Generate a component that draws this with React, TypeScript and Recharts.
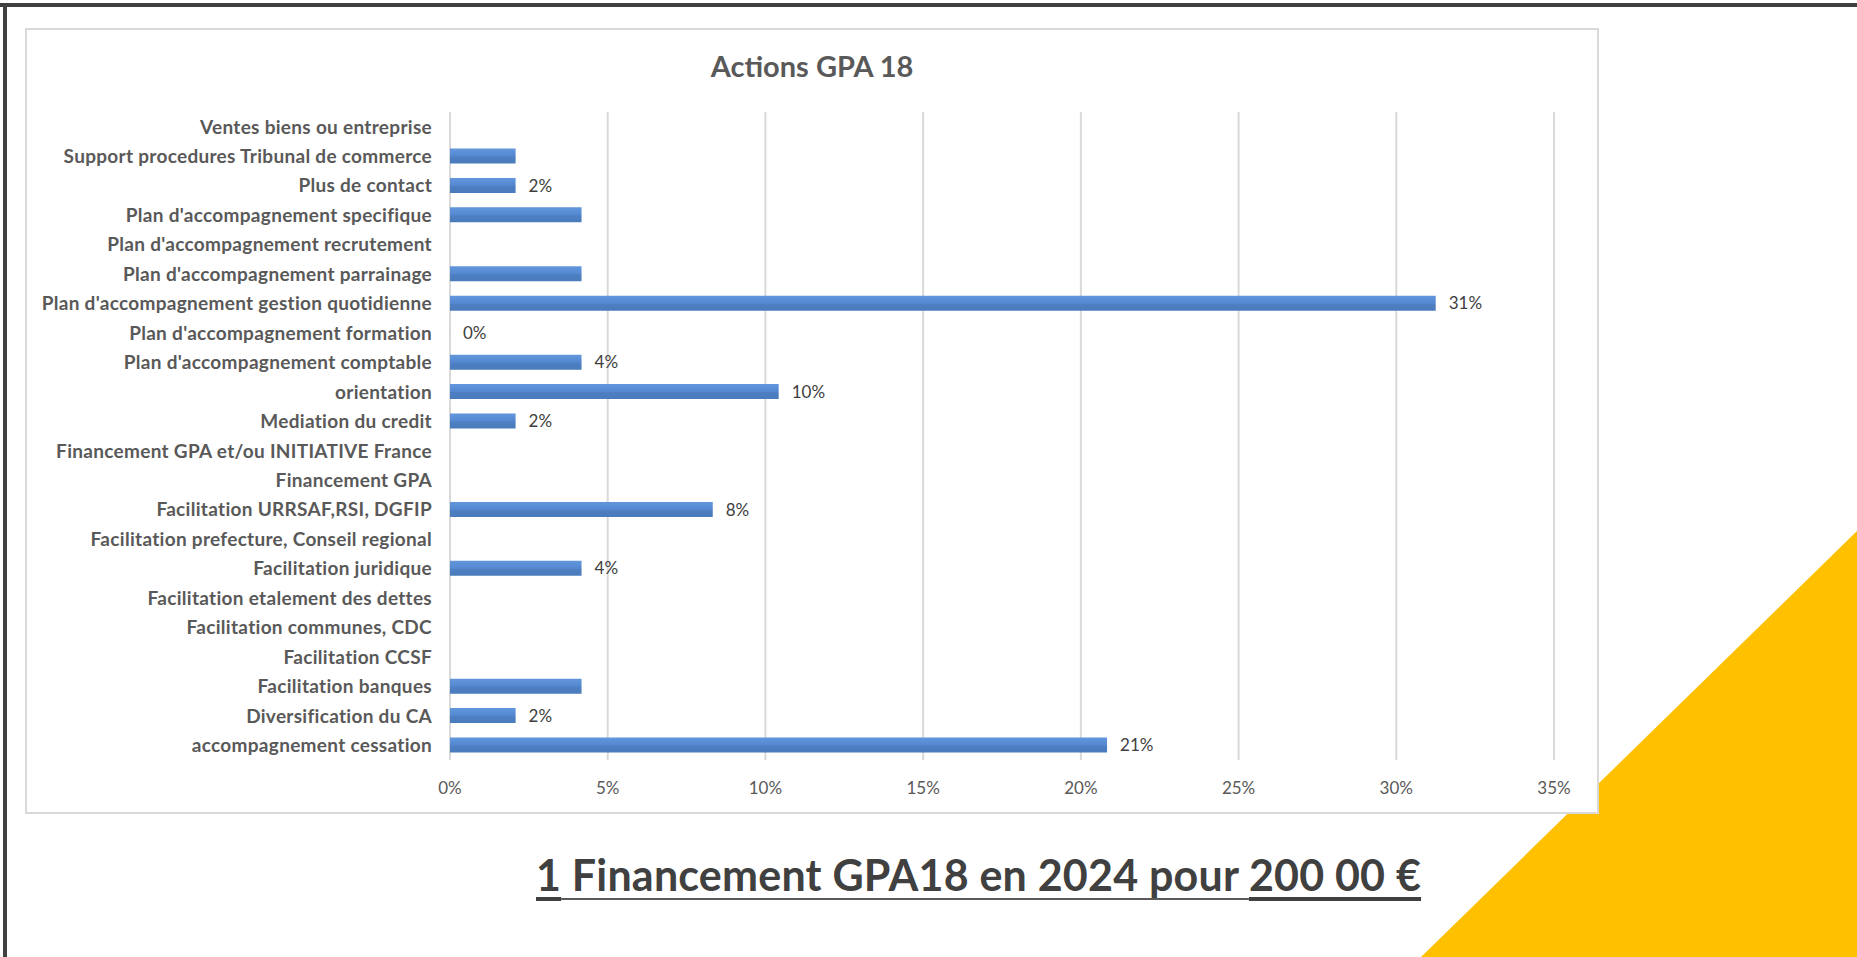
import React from 'react';
import { BarChart, Bar, XAxis, YAxis, CartesianGrid, LabelList } from 'recharts';

const categories = [
  'Ventes biens ou entreprise',
  'Support procedures Tribunal de commerce',
  'Plus de contact',
  "Plan d'accompagnement specifique",
  "Plan d'accompagnement recrutement",
  "Plan d'accompagnement parrainage",
  "Plan d'accompagnement gestion quotidienne",
  "Plan d'accompagnement formation",
  "Plan d'accompagnement comptable",
  'orientation',
  'Mediation du credit',
  'Financement GPA et/ou INITIATIVE France',
  'Financement GPA',
  'Facilitation URRSAF,RSI, DGFIP',
  'Facilitation prefecture, Conseil regional',
  'Facilitation juridique',
  'Facilitation etalement des dettes',
  'Facilitation communes, CDC',
  'Facilitation CCSF',
  'Facilitation banques',
  'Diversification du CA',
  'accompagnement cessation',
];

const shares: (number | null)[] = [
  null, 2.08, 2.08, 4.17, null, 4.17, 31.25, 0, 4.17, 10.42, 2.08,
  null, null, 8.33, null, 4.17, null, null, null, 4.17, 2.08, 20.83,
];

const valueLabels = [
  '', '', '2%', '', '', '', '31%', '0%', '4%', '10%', '2%',
  '', '', '8%', '', '4%', '', '', '', '', '2%', '21%',
];

const xTicks = [0, 5, 10, 15, 20, 25, 30, 35];
const chartTitle = 'Actions GPA 18';

const data = categories.map((name, i) => ({ name, value: shares[i], label: valueLabels[i] }));

const FONT = 'Lato, "Open Sans", sans-serif';

function YTick(props: any) {
  const { x, y, payload } = props;
  return (
    <text x={x - 18} y={y} dy="0.36em" textAnchor="end" fill="#595959" fontFamily={FONT}
      fontWeight={700} fontSize={19} letterSpacing={0.3}>
      {payload.value}
    </text>
  );
}

function XTick(props: any) {
  const { x, y, payload } = props;
  return (
    <text x={x} y={y + 28} dy="0.36em" textAnchor="middle" fill="#595959" fontFamily={FONT} fontSize={17}>
      {`${payload.value}%`}
    </text>
  );
}

function BarLabel(props: any) {
  const { x, y, width, height, value } = props;
  if (!value) return null;
  return (
    <text x={Number(x) + Number(width) + 13} y={Number(y) + Number(height) / 2} dy="0.36em"
      textAnchor="start" fill="#404040" fontFamily={FONT} fontSize={17}>
      {value}
    </text>
  );
}

const zeroBarSize = (v: any) => (v === 0 ? 0.01 : 0);

export default function App() {
  return (
    <div style={{ position: 'absolute', left: 0, top: 0, width: 1857, height: 957, overflow: 'hidden', background: '#fff' }}>
      <svg width={1857} height={957} style={{ position: 'absolute', left: 0, top: 0 }}>
        <polygon points="1421,957 1857,531 1857,957" fill="#FFC000" />
      </svg>
      <div style={{ position: 'absolute', left: 0, top: 3, width: 1857, height: 4, background: '#404040' }} />
      <div style={{ position: 'absolute', left: 3, top: 3, width: 4, height: 954, background: '#404040' }} />
      <div style={{ position: 'absolute', left: 25, top: 28, width: 1574, height: 786, boxSizing: 'border-box', border: '2px solid #d9d9d9', background: '#fff' }} />
      <div style={{ position: 'absolute', left: 26, top: 51, width: 1572, textAlign: 'center', fontFamily: FONT, fontWeight: 700, fontSize: 29, lineHeight: 1, color: '#595959' }}>
        {chartTitle}
      </div>
      <div style={{ position: 'absolute', left: 26, top: 29 }}>
        <BarChart width={1572} height={784} data={data} layout="vertical"
          margin={{ top: 83, right: 44, bottom: 0, left: 0 }} barSize={15}>
          <defs>
            <linearGradient id="barGrad" x1="0" y1="0" x2="0" y2="1">
              <stop offset="0%" stopColor="#6296dc" />
              <stop offset="50%" stopColor="#5489d2" />
              <stop offset="56%" stopColor="#4d7fc2" />
              <stop offset="100%" stopColor="#4a7bbb" />
            </linearGradient>
          </defs>
          <CartesianGrid horizontal={false} vertical={true} stroke="#d9d9d9" strokeWidth={2} />
          <XAxis type="number" domain={[0, 35]} ticks={xTicks} axisLine={false} tickLine={false}
            tickSize={0} tickMargin={0} height={53} tick={<XTick />} interval={0} />
          <YAxis type="category" dataKey="name" width={424} axisLine={false} tickLine={false}
            tickSize={0} tickMargin={0} tick={<YTick />} interval={0} />
          <Bar dataKey="value" fill="url(#barGrad)" isAnimationActive={false} minPointSize={zeroBarSize}>
            <LabelList dataKey="label" content={<BarLabel />} />
          </Bar>
        </BarChart>
      </div>
      <div style={{ position: 'absolute', left: 536, top: 853, whiteSpace: 'nowrap', fontFamily: FONT, fontWeight: 700, fontSize: 43, lineHeight: 1, color: '#404040', letterSpacing: 0.2 }}>
        <span style={{ textDecoration: 'underline', textDecorationThickness: 4, textUnderlineOffset: 6, textDecorationColor: '#404040' }}>1</span>
        <span style={{ textDecoration: 'underline', textDecorationThickness: 2, textUnderlineOffset: 7, textDecorationColor: '#595959' }}> Financement GPA18 en 2024 pour </span>
        <span style={{ textDecoration: 'underline', textDecorationThickness: 4, textUnderlineOffset: 6, textDecorationColor: '#404040' }}>200 00 €</span>
      </div>
    </div>
  );
}
